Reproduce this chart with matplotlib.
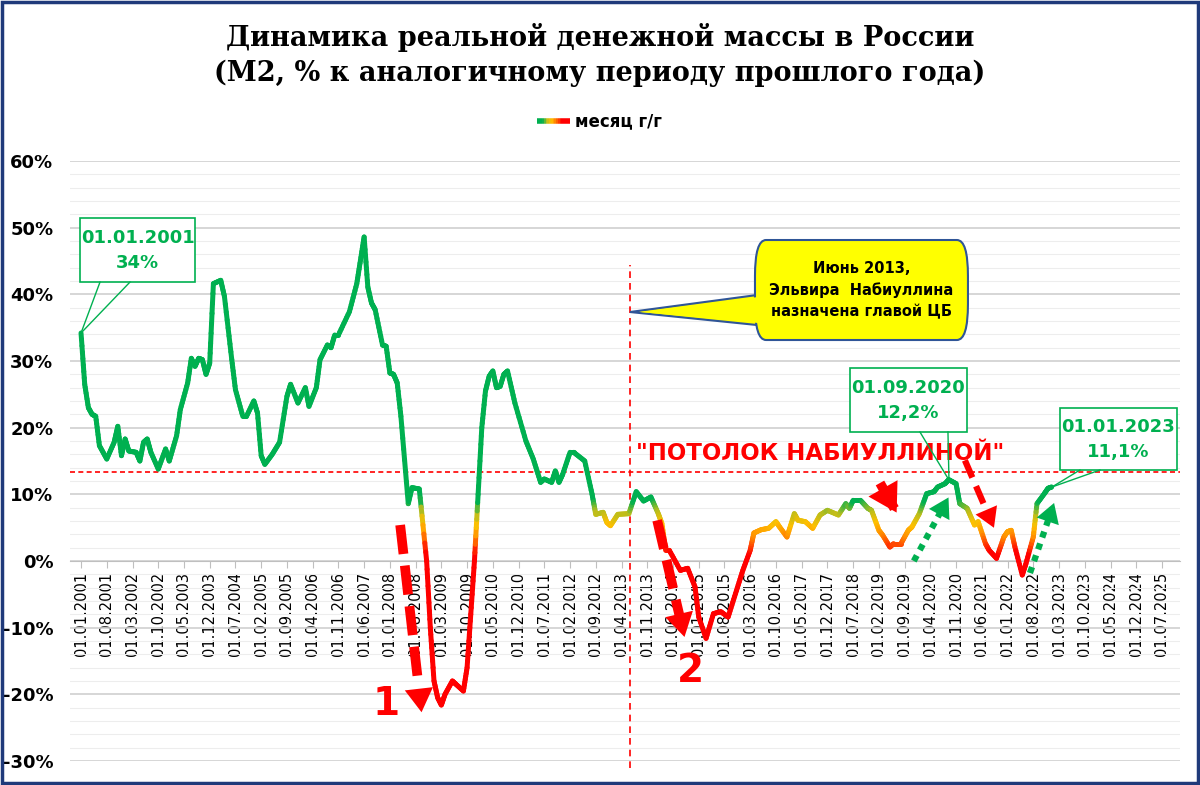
import matplotlib
matplotlib.use("Agg")
import matplotlib.pyplot as plt
import numpy as np
from matplotlib.collections import LineCollection
from matplotlib.colors import LinearSegmentedColormap, Normalize
from matplotlib.patches import FancyBboxPatch, Polygon, Rectangle

months = [0, 1, 2, 3, 4, 5, 7, 9, 10, 11, 12, 13, 15, 16, 17, 18, 19, 21, 23, 24,
          26, 27, 29, 30, 31, 32, 33, 34, 35, 36, 38, 39, 41, 42, 44, 45, 47, 48, 49, 50,
          52, 54, 56, 57, 59, 61, 62, 64, 65, 67, 68, 69, 70, 73, 75, 76, 77, 78, 79, 80,
          82, 83, 84, 85, 86, 87, 89, 90, 92, 94, 95, 96, 97, 98, 99, 101, 102, 104, 105, 106,
          107, 108, 109, 110, 111, 112, 113, 114, 115, 116, 118, 121, 123, 125, 126, 128, 129, 130, 131, 133,
          134, 137, 139, 140, 142, 143, 144, 146, 149, 151, 153, 155, 157, 158, 159, 160, 163, 165, 167, 168,
          170, 172, 174, 176, 178, 180, 182, 183, 185, 187, 189, 190, 192, 194, 195, 197, 199, 201, 203, 206,
          208, 209, 210, 212, 214, 215, 217, 218, 220, 221, 223, 225, 226, 228, 230, 232, 233, 235, 236, 238,
          239, 241, 243, 244, 246, 247, 249, 251, 252, 253, 254, 256, 257, 259, 260, 262, 263, 264]
m2_real = [34.2, 26.5, 23.0, 22.0, 21.7, 17.3, 15.3, 17.8, 20.2, 15.8, 18.3, 16.5, 16.3, 15.0, 17.8, 18.3, 16.3, 13.8, 16.8, 15.0,
           18.8, 22.7, 26.7, 30.4, 29.2, 30.4, 30.2, 28.0, 29.7, 41.6, 42.1, 39.7, 30.2, 25.7, 21.7, 21.7, 24.0, 22.2, 15.8, 14.5,
           16.0, 17.8, 24.7, 26.5, 23.7, 26.0, 23.2, 26.0, 30.2, 32.4, 32.0, 33.9, 33.9, 37.4, 41.6, 45.1, 48.6, 41.1, 38.7, 37.7,
           32.4, 32.2, 28.2, 28.0, 26.7, 21.7, 8.6, 11.0, 10.8, 0.0, -10.0, -18.0, -20.5, -21.6, -20.0, -18.0, -18.5, -19.5, -16.0, -8.0,
           0.0, 10.0, 20.0, 25.5, 27.7, 28.5, 26.0, 26.2, 28.0, 28.5, 23.7, 18.0, 15.3, 11.8, 12.3, 11.8, 13.5, 11.8, 13.0, 16.3,
           16.3, 15.0, 10.0, 7.0, 7.3, 5.8, 5.3, 7.0, 7.1, 10.4, 9.0, 9.6, 7.1, 5.6, 1.6, 1.6, -1.4, -1.1, -3.9, -8.4,
           -11.6, -7.9, -7.6, -8.4, -4.9, -1.4, 1.6, 4.2, 4.7, 4.9, 5.9, 5.1, 3.6, 7.1, 6.1, 5.9, 4.9, 6.9, 7.6, 6.9,
           8.6, 7.9, 9.1, 9.1, 7.9, 7.6, 4.6, 3.9, 2.1, 2.6, 2.6, 4.6, 5.1, 7.1, 10.1, 10.4, 11.1, 11.6, 12.2, 11.6,
           8.6, 7.9, 5.4, 5.9, 2.6, 1.6, 0.4, 3.6, 4.4, 4.6, 2.1, -2.1, -0.4, 3.6, 8.6, 10.1, 10.9, 11.1]

tick_months = list(range(0, 295, 7))
tick_labels = [f"01.{m % 12 + 1:02d}.{2001 + m // 12}" for m in tick_months]
y_ticks = [-30, -20, -10, 0, 10, 20, 30, 40, 50, 60]
ceiling = 13.3   # "потолок"
nabiullina_month = 149.3

RED, GREEN = "#FF0000", "#00B050"
cmap = LinearSegmentedColormap.from_list(
    "m2", [(0.0, RED), (0.25, RED), (0.45, "#FF8C00"), (0.58, "#FFC000"),
           (0.72, "#B5BD1E"), (0.85, GREEN), (1.0, GREEN)])
norm = Normalize(-2, 11)

fig = plt.figure(figsize=(12, 7.85), dpi=100)
fig.patches.append(Rectangle((0.002, 0.002), 0.996, 0.996, transform=fig.transFigure,
                             fill=False, ec="#1F3A7A", lw=2.5))
ax = fig.add_axes([70 / 1200, 1 - 761 / 785, 1110 / 1200, 600 / 785])
ax.set_xlim(-3, 298.9)
ax.set_ylim(-30, 60)

# gradient line
x = np.asarray(months, float)
y = np.asarray(m2_real, float)
xs, ys = [], []
for i in range(len(x) - 1):
    t = np.linspace(0, 1, 9)[:-1]
    xs.extend(x[i] + t * (x[i + 1] - x[i]))
    ys.extend(y[i] + t * (y[i + 1] - y[i]))
xs.append(x[-1]); ys.append(y[-1])
pts = np.column_stack([xs, ys]).reshape(-1, 1, 2)
segs = np.concatenate([pts[:-1], pts[1:]], axis=1)
lc = LineCollection(segs, cmap=cmap, norm=norm, lw=3.6, capstyle="round", zorder=5)
lc.set_array((np.array(ys[:-1]) + np.array(ys[1:])) / 2)
ax.add_collection(lc)

# axes styling
for s in ["top", "right", "left"]:
    ax.spines[s].set_visible(False)
ax.spines["bottom"].set_position(("data", 0))
ax.spines["bottom"].set_color("#BFBFBF")
ax.set_yticks(y_ticks)
ax.set_yticklabels([f"{v}%" for v in y_ticks], fontsize=13, fontweight="bold")
ax.set_yticks(np.arange(-30, 61, 2), minor=True)
ax.grid(axis="y", which="major", color="#D0D0D0", lw=1.2)
ax.grid(axis="y", which="minor", color="#EDEDED", lw=0.8)
ax.set_xticks(tick_months)
ax.set_xticklabels(tick_labels, fontsize=10.5)
ax.tick_params(axis="x", length=5, color="#BFBFBF", pad=3, labelrotation=90)
ax.tick_params(axis="y", which="both", length=0, pad=12)
ax.set_axisbelow(True)

ax.axhline(ceiling, color=RED, ls=(0, (3, 2)), lw=1.2, zorder=3)
ax.plot([nabiullina_month] * 2, [-31, 44.4], color=RED, ls=(0, (4, 3)), lw=1.2,
        zorder=3, clip_on=False)

def arrow(x0, y0, x1, y1, color, ls, lw, head=34):
    f = 0.8
    ax.plot([x0, x0 + f * (x1 - x0)], [y0, y0 + f * (y1 - y0)], color=color, ls=ls,
            lw=lw, zorder=6, solid_capstyle="butt", dash_capstyle="butt")
    ax.annotate("", xy=(x1, y1), xytext=(x0 + 0.7 * (x1 - x0), y0 + 0.7 * (y1 - y0)),
                arrowprops=dict(arrowstyle="-|>,head_length=0.5,head_width=0.3",
                                mutation_scale=head, color=color, lw=0),
                zorder=7)

arrow(86.8, 5.4, 92.7, -23.1, RED, (0, (3, 1.2)), 7)
arrow(156.7, 6.1, 164.3, -11.8, RED, (0, (3, 1.2)), 7)
arrow(217.3, 11.7, 222.2, 6.9, RED, "-", 7, head=40)
arrow(240.4, 15.1, 248.6, 4.6, RED, (0, (3, 1.5)), 4.5, head=28)
arrow(226.5, 0.0, 236.3, 9.9, GREEN, (0, (1, 1)), 4.5, head=28)
arrow(258.1, -1.8, 264.9, 9.1, GREEN, (0, (1, 1)), 4.5, head=28)

ax.text(83, -21.5, "1", color=RED, fontsize=28, fontweight="bold", ha="center", va="center")
ax.text(165.7, -16.5, "2", color=RED, fontsize=28, fontweight="bold", ha="center", va="center")
ax.text(200.9, 16.2, "\"ПОТОЛОК НАБИУЛЛИНОЙ\"", color=RED, fontsize=16.5, fontweight="bold",
        ha="center", va="center")

def px(xp, yp):
    return (xp - 81) / 3.677, (561 - yp) / 6.667

def callout(x0, y0, x1, y1, text, ptr, target):
    a, b = px(x0, y0)
    c, d = px(x1, y1)
    ax.add_patch(Rectangle((a, d), c - a, b - d, fc="white", ec=GREEN, lw=1.2, zorder=8))
    ax.text((a + c) / 2, (b + d) / 2, text, color=GREEN, fontsize=13, fontweight="bold",
            ha="center", va="center", zorder=9, linespacing=1.5)
    tx, ty = px(*target)
    for p in ptr:
        qx, qy = px(*p)
        ax.plot([qx, tx], [qy, ty], color=GREEN, lw=1, zorder=8)

callout(80, 218, 195, 282, "01.01.2001\n34%", [(100, 282), (130, 282)], (81, 333))
callout(850, 368, 967, 432, "01.09.2020\n12,2%", [(920, 432), (948, 432)], (949, 480))
callout(1060, 408, 1177, 470, "01.01.2023\n11,1%", [(1080, 470), (1100, 470)], (1052, 487))

# yellow note
a, b = px(755, 240)
c, d = px(968, 340)
ax.add_patch(Polygon([px(757, 295), px(630, 312), px(757, 325)], closed=True,
                     fc="#FFFF00", ec="#2F5597", lw=1.5, zorder=8))
ax.add_patch(FancyBboxPatch((a, d), c - a, b - d, boxstyle="round,pad=0,rounding_size=3",
                            mutation_aspect=1.8, fc="#FFFF00", ec="#2F5597", lw=1.5, zorder=8))
ax.add_patch(Polygon([px(758, 297), px(758, 323), px(640, 312)], closed=True,
                     fc="#FFFF00", ec="none", zorder=9))
ax.text((a + c) / 2, (b + d) / 2, "Июнь 2013,\nЭльвира  Набиуллина\nназначена главой ЦБ",
        fontsize=10.5, fontweight="bold", ha="center", va="center", zorder=10, linespacing=1.5)

# title and legend
fig.text(0.5, 1 - 38 / 785, "Динамика реальной денежной массы в России", ha="center",
         va="center", fontsize=19.5, fontweight="bold", family="DejaVu Serif")
fig.text(0.5, 1 - 73 / 785, "(М2, % к аналогичному периоду прошлого года)", ha="center",
         va="center", fontsize=19.5, fontweight="bold", family="DejaVu Serif")
lx = np.linspace(537, 570, 20) / 1200
lpts = np.column_stack([lx, np.full_like(lx, 1 - 121 / 785)]).reshape(-1, 1, 2)
leg = LineCollection(np.concatenate([lpts[:-1], lpts[1:]], axis=1), cmap=cmap, norm=norm,
                     lw=4, transform=fig.transFigure)
leg.set_array(np.linspace(11, -2, 19))
fig.add_artist(leg)
fig.text(575 / 1200, 1 - 121 / 785, "месяц г/г", ha="left", va="center", fontsize=12,
         fontweight="bold")

fig.savefig("out.png", dpi=100, facecolor="white")
